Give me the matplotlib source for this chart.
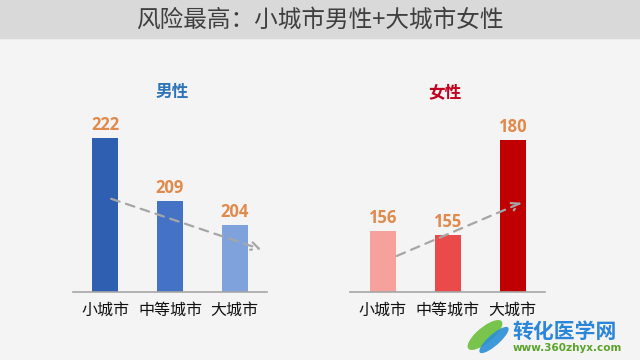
import matplotlib
matplotlib.use("Agg")
import matplotlib.pyplot as plt
from matplotlib.patches import Rectangle, Ellipse

plt.rcParams['font.family'] = ['Noto Sans CJK SC', 'DejaVu Sans']

title = "风险最高：小城市男性+大城市女性"
categories = ["小城市", "中等城市", "大城市"]
male_values = [222, 209, 204]
female_values = [156, 155, 180]
male_colors = ["#2f5fb0", "#4472c4", "#7fa2dc"]
female_colors = ["#f6a19c", "#ea4a4a", "#c00000"]
male_arrow = [(0.05, 209.6), (2.45, 198.7)]
female_arrow = [(0.18, 149.2), (2.18, 163.8)]

W, H = 640, 360
fig = plt.figure(figsize=(6.4, 3.6), dpi=100)
fig.patch.set_facecolor("#f4f4f4")

# title band
fig.add_artist(Rectangle((0, 1 - 38.5 / H), 1, 38.5 / H, transform=fig.transFigure,
                         facecolor="#d9d9d9", edgecolor="none", zorder=0))
fig.add_artist(Rectangle((0, 1 - 40 / H), 1, 1.5 / H, transform=fig.transFigure,
                         facecolor="#ececec", edgecolor="none", zorder=0))
fig.text(0.5, 1 - 20 / H, title, ha="center", va="center", fontsize=17, color="#3f3f3f")


def make_axes(x0, x1, ybot, ytop_px, vbot, scale, values, colors, arrow, sub, subcol, subx):
    ax = fig.add_axes([x0 / W, (H - ybot) / H, (x1 - x0) / W, (ybot - ytop_px) / H])
    ax.set_facecolor("none")
    x = list(range(len(values)))
    ax.bar(x, [v - vbot for v in values], bottom=vbot, width=0.4, color=colors, zorder=2)
    ax.set_xlim(-0.5, 2.5)
    ax.set_ylim(vbot, vbot + (ybot - ytop_px) / scale)
    for s in ["top", "right", "left"]:
        ax.spines[s].set_visible(False)
    ax.spines["bottom"].set_color("#a6a6a6")
    ax.spines["bottom"].set_linewidth(1.2)
    ax.set_yticks([])
    ax.set_xticks(x)
    ax.set_xticklabels(categories, fontsize=11.5, color="#111111")
    ax.tick_params(axis="x", length=0, pad=7)
    for xi, v in zip(x, values):
        ax.annotate(str(v), (xi, v), xytext=(0, 3), textcoords="offset points",
                    ha="center", va="bottom", fontsize=12, fontweight="bold",
                    color="#e08a4c", family=["Open Sans", "DejaVu Sans"])
    ax.annotate("", xy=arrow[1], xytext=arrow[0],
                arrowprops=dict(arrowstyle="->", color="#a6a6a6", lw=1.6,
                                linestyle=(0, (4, 3)), mutation_scale=14), zorder=3)
    fig.text(subx / W, 1 - 92 / H, sub, ha="center", va="center", fontsize=12,
             fontweight="bold", color=subcol)
    return ax


make_axes(73, 267, 292, 100, 190, 4.8, male_values, male_colors, male_arrow,
          "男性", "#2e75b6", 172)
make_axes(350, 545, 292, 100, 140, 3.8, female_values, female_colors, female_arrow,
          "女性", "#c0001e", 445)

# watermark
fig.add_artist(Ellipse((485 / W, 1 - 335 / H), 20 / W, 34 / H, angle=-30,
                       transform=fig.transFigure, facecolor="#6cbf3a", edgecolor="none", alpha=0.9))
fig.add_artist(Ellipse((494 / W, 1 - 340 / H), 14 / W, 30 / H, angle=-30,
                       transform=fig.transFigure, facecolor="#2b8fd6", edgecolor="none", alpha=0.9))
fig.text(565 / W, 1 - 331 / H, "转化医学网", ha="center", va="center", fontsize=15,
         color="#2a86d8", fontweight="bold")
fig.text(567 / W, 1 - 348 / H, "www.360zhyx.com", ha="center", va="center", fontsize=7.5,
         color="#5ba32a", fontweight="bold", family=["DejaVu Sans"])

fig.savefig("out.png", dpi=100, facecolor=fig.get_facecolor())
